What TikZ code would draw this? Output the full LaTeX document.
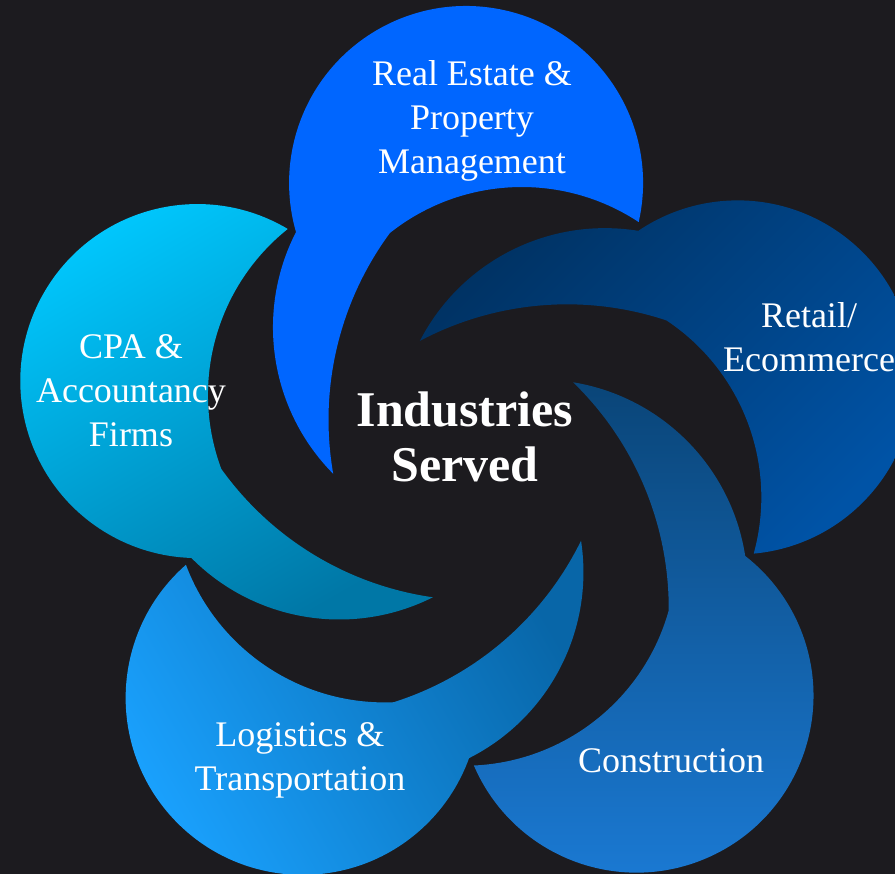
\documentclass[tikz,border=0pt]{standalone}
\usepackage{fontspec}
\setmainfont{Liberation Serif}
\definecolor{bgc}{HTML}{1C1B1F}
\definecolor{topc}{HTML}{0066FF}
\definecolor{retdark}{HTML}{003263}
\definecolor{retlight}{HTML}{0053A6}
\definecolor{condark}{HTML}{0A4578}
\definecolor{conlight}{HTML}{1B7BD6}
\definecolor{logdark}{HTML}{0866A8}
\definecolor{loglight}{HTML}{1AA2FF}
\definecolor{cpalight}{HTML}{00C9FF}
\definecolor{cpadark}{HTML}{0077A6}
\newcommand\swirlpath[1]{({55.14+#1}:298.7)
  arc[start angle={-12.7+#1},end angle={196.1+#1},radius=177]
  arc[start angle={152.8+#1},end angle={224.7+#1},radius=208.3]
  arc[start angle={189.9+#1},end angle={143.6+#1},radius=314.7]
  arc[start angle={128.4+#1},end angle={56.7+#1},radius=212.4] -- cycle}
\tikzset{
  label/.style={text=white,align=center,font=\fontsize{36}{44}\selectfont,inner sep=0pt,anchor=base},
  title/.style={text=white,align=center,font=\fontsize{50}{55}\selectfont\bfseries,inner sep=0pt,anchor=base}
}
\begin{document}
\begin{tikzpicture}[x=1pt,y=1pt]
\useasboundingbox (-468,-407) rectangle (427,467);
\fill[bgc] (-468,-407) rectangle (427,467);
\clip (-468,-407) rectangle (427,467);
% shapes
\fill[topc] \swirlpath{0};
\shade[top color=retdark,bottom color=retlight,shading angle=45] \swirlpath{-72};
\shade[top color=condark,bottom color=conlight,shading angle=0] \swirlpath{-144};
\shade[top color=logdark,bottom color=loglight,shading angle=-60] \swirlpath{-216};
\shade[top color=cpadark,bottom color=cpalight,shading angle=-150] \swirlpath{-288};
% labels (base anchor = baseline of the last line)
\node[label] (real) at (4,293) {Real Estate \&\\Property\\Management};
\node[label] (retail) at (341,95) {Retail/\\Ecommerce};
\node[label] (cons) at (203,-306) {Construction};
\node[label] (logi) at (-168,-324) {Logistics \&\\Transportation};
\node[label] (cpa) at (-337,20) {CPA \&\\Accountancy\\Firms};
\node[title] (ind) at (-3,-15) {Industries\\Served};
\end{tikzpicture}
\end{document}
